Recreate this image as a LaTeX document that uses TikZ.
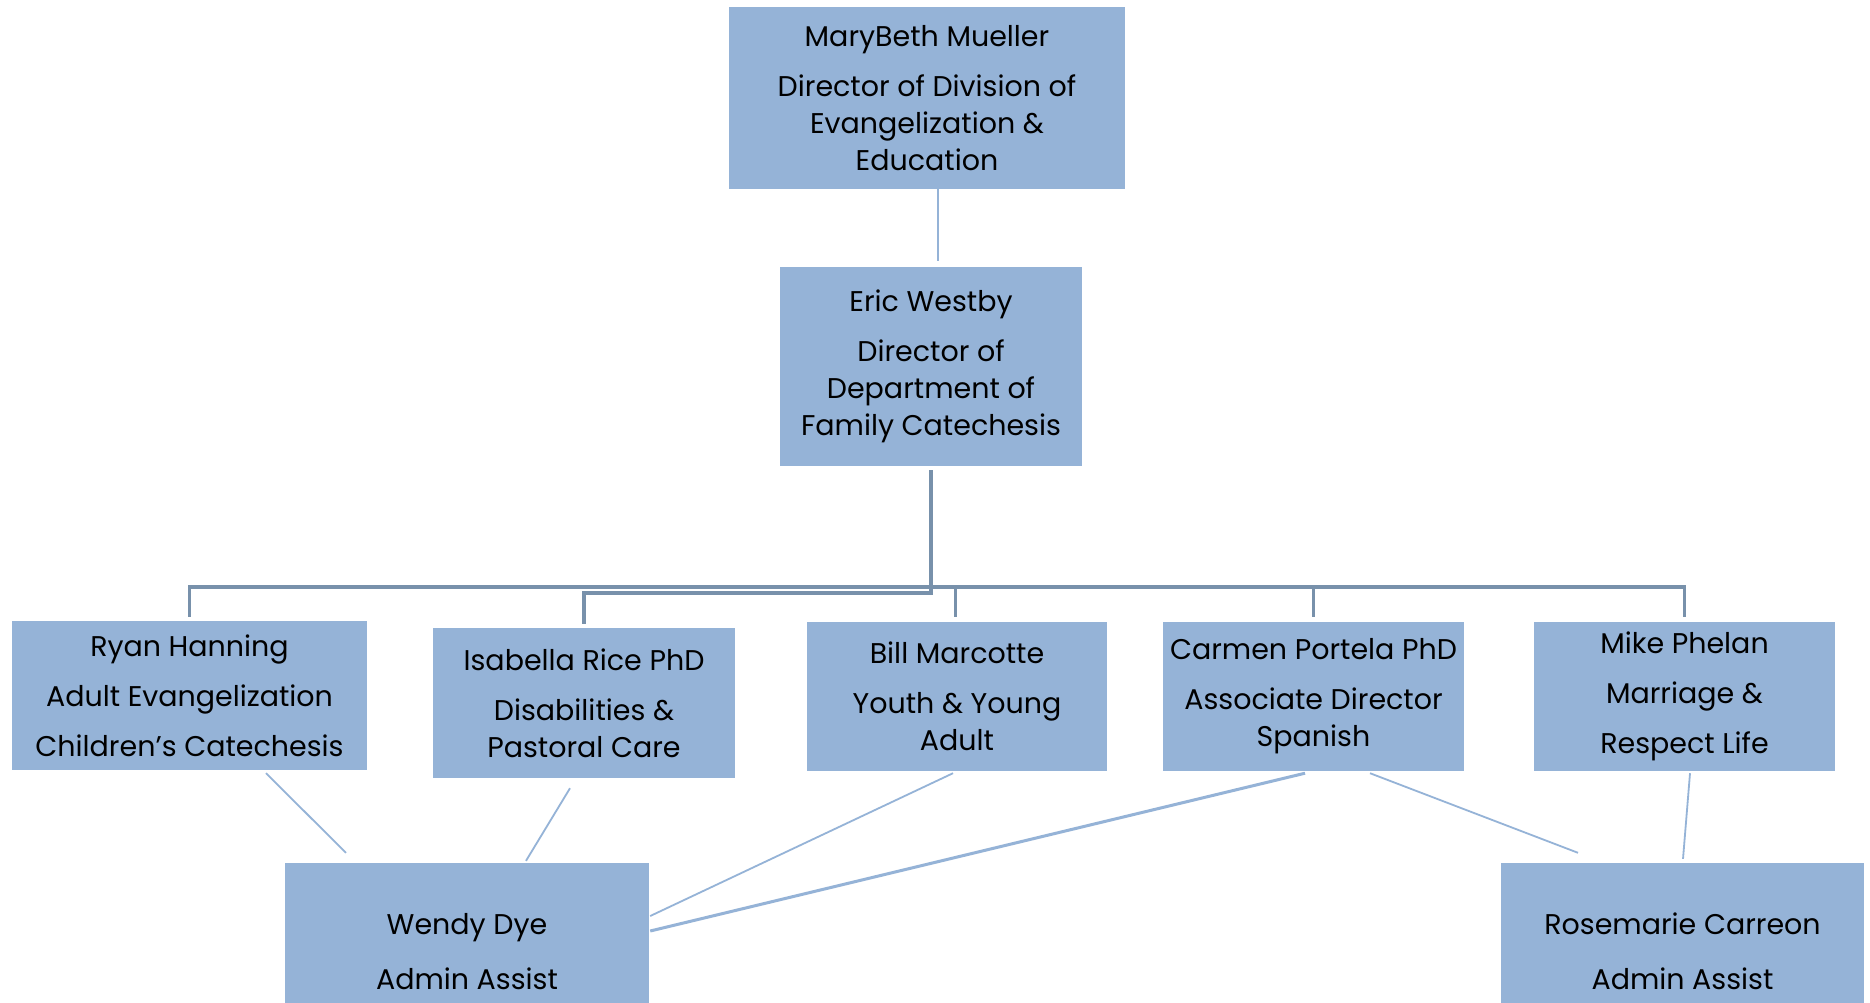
\documentclass[tikz,border=0pt]{standalone}
\usepackage{fontspec}
\setmainfont{Poppins}
\usetikzlibrary{calc}
\definecolor{boxblue}{HTML}{95B3D7}
\definecolor{lightline}{HTML}{95B3D7}
\definecolor{darkline}{HTML}{7891AB}
\tikzset{
  orgbox/.style={fill=boxblue, draw=none, inner sep=0pt, align=center,
    font=\fontsize{28.5}{37}\selectfont, text=black},
  lite/.style={draw=lightline, line width=1.8pt},
  litethick/.style={draw=lightline, line width=3pt},
  dark/.style={draw=darkline, line width=3.5pt},
}
\begin{document}
\begin{tikzpicture}[x=1pt,y=-1pt]
\useasboundingbox (0,0) rectangle (1870,1002);
\fill[white] (0,0) rectangle (1870,1002);

\node[orgbox, minimum width=396pt, minimum height=182pt] (mary) at (927,98)
  {MaryBeth Mueller\\[13pt]Director of Division of\\Evangelization \&\\Education};
\node[orgbox, minimum width=302pt, minimum height=199pt] (eric) at (931,366.5)
  {Eric Westby\\[13pt]Director of\\Department of\\Family Catechesis};
\node[orgbox, minimum width=355pt, minimum height=149pt] (ryan) at (189.5,695.5)
  {Ryan Hanning\\[13pt]Adult Evangelization\\[13pt]Children’s Catechesis};
\node[orgbox, minimum width=302pt, minimum height=150pt] (isa) at (584,703)
  {Isabella Rice PhD\\[13pt]Disabilities \&\\Pastoral Care};
\node[orgbox, minimum width=300pt, minimum height=149pt] (bill) at (957,696.5)
  {Bill Marcotte\\[13pt]Youth \& Young\\Adult};
\node[orgbox, minimum width=301pt, minimum height=149pt] (carm) at (1313.5,696.5)
  {Carmen Portela PhD\\[13pt]Associate Director\\Spanish};
\node[orgbox, minimum width=301pt, minimum height=149pt] (mike) at (1684.5,696.5)
  {Mike Phelan\\[13pt]Marriage \&\\[13pt]Respect Life};
\node[orgbox, minimum width=364pt, minimum height=177pt] (wendy) at (467,951.5)
  {Wendy Dye\\[18pt]Admin Assist};
\node[orgbox, minimum width=363pt, minimum height=177pt] (rose) at (1682.5,951.5)
  {Rosemarie Carreon\\[18pt]Admin Assist};

% top connector
\draw[lite] ([xshift=11pt]mary.south) -- ([xshift=7pt,yshift=6pt]eric.north);

% bus
\draw[dark] ([yshift=-4pt]eric.south) |- ([yshift=35pt]isa.north) -- ([yshift=4pt]isa.north);
\draw[dark] ([yshift=4pt]ryan.north) -- ([yshift=34pt]ryan.north) -- ([yshift=35pt]mike.north) -- ([yshift=5pt]mike.north);
\draw[dark] ([xshift=-1.5pt,yshift=35pt]bill.north) -- ([xshift=-1.5pt,yshift=5pt]bill.north);
\draw[dark] ([yshift=35pt]carm.north) -- ([yshift=5pt]carm.north);

% admin connectors
\draw[lite] ([xshift=76.5pt,yshift=-3pt]ryan.south) -- ([xshift=-121pt,yshift=10pt]wendy.north);
\draw[lite] ([xshift=-14pt,yshift=-10pt]isa.south) -- ([xshift=59pt,yshift=2pt]wendy.north);
\draw[lite] ([xshift=-4pt,yshift=-2pt]bill.south) -- ([xshift=1pt,yshift=35.5pt]wendy.east);
\draw[litethick] ([xshift=-8.5pt,yshift=-2pt]carm.south) -- ([xshift=1pt,yshift=20.5pt]wendy.east);
\draw[lite] ([xshift=56.5pt,yshift=-2pt]carm.south) -- ([xshift=-104.5pt,yshift=10pt]rose.north);
\draw[lite] ([xshift=5.5pt,yshift=-2pt]mike.south) -- ([xshift=0.5pt,yshift=4pt]rose.north);
\end{tikzpicture}
\end{document}
